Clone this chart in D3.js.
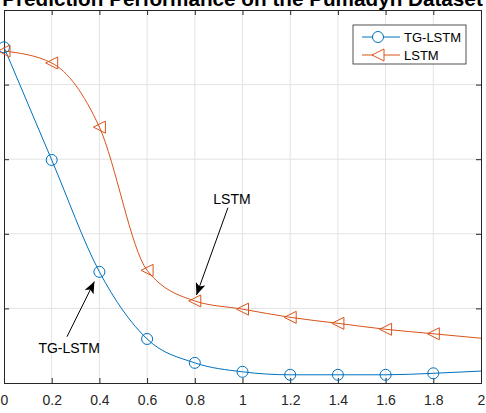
<!doctype html>
<html lang="en">
<head>
<meta charset="UTF-8">
<title>Prediction Performance</title>
<script src="https://d3js.org/d3.v7.min.js"></script>
<style>
  body { margin: 0; background: #fff; }
  text { font-family: "Liberation Sans", Arial, sans-serif; }
</style>
</head>
<body>
<div id="chart"></div>
<script>
  // x positions of the samples
  const xValues = [0, 0.2, 0.4, 0.6, 0.8, 1.0, 1.2, 1.4, 1.6, 1.8, 2.0]
  // markers are drawn on all but the last sample
  const markerCount = 10
  const tgLstm = [4.50, 2.99, 1.49, 0.59, 0.27, 0.15, 0.11, 0.11, 0.11, 0.13, 0.16]
  const lstm = [4.45, 4.29, 3.43, 1.51, 1.10, 0.99, 0.88, 0.80, 0.72, 0.66, 0.60]
  const xTicks = [0, 0.2, 0.4, 0.6, 0.8, 1, 1.2, 1.4, 1.6, 1.8, 2]
  const yTicks = [0, 1, 2, 3, 4, 5]
  const seriesNames = ['TG-LSTM', 'LSTM']
  const title = 'Prediction Performance on the Pumadyn Dataset'

  const colors = ['#0072BD', '#D95319']
  const axisColor = '#262626'

  const dimensions = {
    width: 486,
    height: 413,
    left: 4,
    right: 5,
    top: 10,
    bottom: 30
  }
  dimensions.ctrWidth = dimensions.width - dimensions.left - dimensions.right
  dimensions.ctrHeight = dimensions.height - dimensions.top - dimensions.bottom

  const svg = d3.select('#chart')
    .append('svg')
    .attr('width', dimensions.width)
    .attr('height', dimensions.height)

  const container = svg.append('g')
    .attr('transform', `translate(${dimensions.left}, ${dimensions.top})`)

  const xScale = d3.scaleLinear()
    .domain([0, 2])
    .range([0, dimensions.ctrWidth])

  const yScale = d3.scaleLinear()
    .domain([0, 5])
    .range([dimensions.ctrHeight, 0])

  // title (cut off at the top, as in the original)
  svg.append('text')
    .attr('x', dimensions.left + dimensions.ctrWidth / 2)
    .attr('y', 6)
    .attr('text-anchor', 'middle')
    .style('font-size', '20.7px')
    .style('font-weight', 'bold')
    .attr('fill', '#000')
    .text(title)

  // grid
  container.append('g')
    .selectAll('line')
    .data(xTicks.slice(1, -1))
    .join('line')
    .attr('x1', d => xScale(d)).attr('x2', d => xScale(d))
    .attr('y1', 0).attr('y2', dimensions.ctrHeight)
    .attr('stroke', '#e3e3e3')
  container.append('g')
    .selectAll('line')
    .data(yTicks.slice(1, -1))
    .join('line')
    .attr('y1', d => yScale(d)).attr('y2', d => yScale(d))
    .attr('x1', 0).attr('x2', dimensions.ctrWidth)
    .attr('stroke', '#e3e3e3')

  // axes, ticks pointing inward
  const xAxis = d3.axisBottom(xScale)
    .tickValues(xTicks)
    .tickSize(-5)
    .tickPadding(12)
    .tickFormat(d => d)
  const xAxisG = container.append('g')
    .attr('transform', `translate(0, ${dimensions.ctrHeight})`)
    .call(xAxis)
  xAxisG.selectAll('text').style('font-size', '14px').attr('fill', axisColor)

  const xTop = container.append('g')
    .call(d3.axisTop(xScale).tickValues(xTicks).tickSize(-5).tickFormat(''))

  const yAxisG = container.append('g')
    .call(d3.axisLeft(yScale).tickValues(yTicks).tickSize(-5).tickFormat(''))
  const yRight = container.append('g')
    .attr('transform', `translate(${dimensions.ctrWidth}, 0)`)
    .call(d3.axisRight(yScale).tickValues(yTicks).tickSize(-5).tickFormat(''))

  container.selectAll('.domain').attr('stroke', axisColor)
  container.selectAll('.tick line').attr('stroke', axisColor)

  // lines
  const series = [tgLstm, lstm]
  const lineGenerator = d3.line()
    .x((d, i) => xScale(xValues[i]))
    .y(d => yScale(d))
    .curve(d3.curveMonotoneX)

  series.forEach((values, s) => {
    container.append('path')
      .datum(values)
      .attr('d', lineGenerator)
      .attr('fill', 'none')
      .attr('stroke', colors[s])
      .attr('stroke-width', 1)
  })

  function triangle(cx, cy, r) {
    return `M${cx - r},${cy} L${cx + r},${cy - r} L${cx + r},${cy + r} Z`
  }

  // markers
  container.append('g')
    .selectAll('circle')
    .data(tgLstm.slice(0, markerCount))
    .join('circle')
    .attr('cx', (d, i) => xScale(xValues[i]))
    .attr('cy', d => yScale(d))
    .attr('r', 5.5)
    .attr('fill', 'none')
    .attr('stroke', colors[0])
    .attr('stroke-width', 1)

  container.append('g')
    .selectAll('path')
    .data(lstm.slice(0, markerCount))
    .join('path')
    .attr('d', (d, i) => triangle(xScale(xValues[i]), yScale(d), 6))
    .attr('fill', 'none')
    .attr('stroke', colors[1])
    .attr('stroke-width', 1)

  // annotations
  const defs = svg.append('defs')
  defs.append('marker')
    .attr('id', 'arrow')
    .attr('viewBox', '0 0 12 10')
    .attr('refX', 12).attr('refY', 5)
    .attr('markerWidth', 12).attr('markerHeight', 10)
    .attr('markerUnits', 'userSpaceOnUse')
    .attr('orient', 'auto')
    .append('path')
    .attr('d', 'M0,0 L12,5 L0,10 L3,5 Z')
    .attr('fill', '#000')

  const notes = [
    { label: 'LSTM', tx: 0.956, ty: 2.40, x1: 0.939, y1: 2.35, x2: 0.807, y2: 1.18 },
    { label: 'TG-LSTM', tx: 0.273, ty: 0.40, x1: 0.264, y1: 0.62, x2: 0.379, y2: 1.36 }
  ]
  notes.forEach(n => {
    container.append('line')
      .attr('x1', xScale(n.x1)).attr('y1', yScale(n.y1))
      .attr('x2', xScale(n.x2)).attr('y2', yScale(n.y2))
      .attr('stroke', '#000')
      .attr('stroke-width', 1)
      .attr('marker-end', 'url(#arrow)')
    container.append('text')
      .attr('x', xScale(n.tx))
      .attr('y', yScale(n.ty))
      .attr('text-anchor', 'middle')
      .style('font-size', '14px')
      .attr('fill', '#000')
      .text(n.label)
  })

  // legend
  const legend = svg.append('g').attr('transform', 'translate(353, 25)')
  legend.append('rect')
    .attr('width', 113).attr('height', 39)
    .attr('fill', '#fff')
    .attr('stroke', axisColor)
    .attr('stroke-width', 0.8)
  seriesNames.forEach((name, i) => {
    const y = 12 + i * 18
    legend.append('line')
      .attr('x1', 9).attr('x2', 47)
      .attr('y1', y).attr('y2', y)
      .attr('stroke', colors[i])
    if (i === 0) {
      legend.append('circle')
        .attr('cx', 25).attr('cy', y).attr('r', 5.5)
        .attr('fill', '#fff').attr('stroke', colors[i])
    } else {
      legend.append('path')
        .attr('d', triangle(25, y, 6))
        .attr('fill', '#fff').attr('stroke', colors[i])
    }
    legend.append('text')
      .attr('x', 51).attr('y', y + 4.5)
      .style('font-size', '13px')
      .attr('fill', '#000')
      .text(name)
  })
</script>
</body>
</html>
